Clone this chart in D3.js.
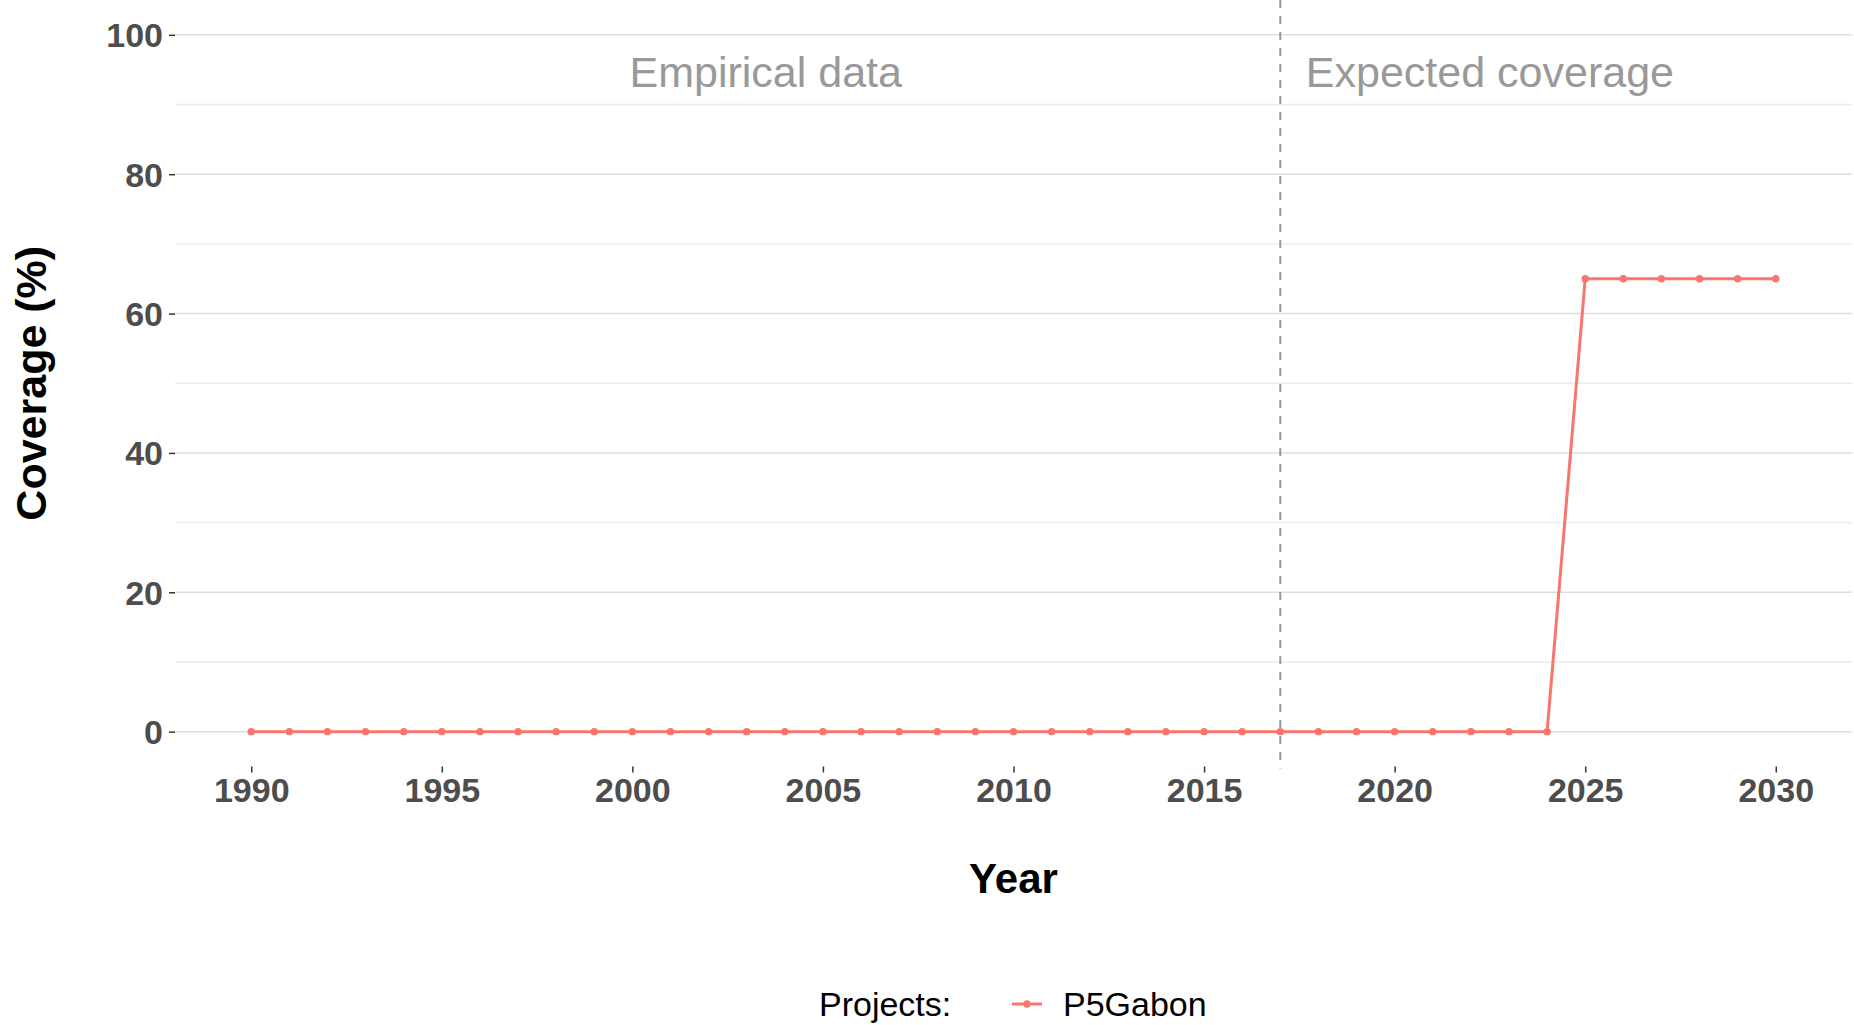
<!DOCTYPE html>
<html><head><meta charset="utf-8">
<script src="https://cdn.jsdelivr.net/npm/d3@7"></script>
<style>body{margin:0;background:#fff}svg{display:block;font-family:"Liberation Sans",Arial,sans-serif}</style>
</head><body>
<svg id="c" width="1854" height="1025"></svg>
<script>
const years = [1990,1991,1992,1993,1994,1995,1996,1997,1998,1999,2000,2001,2002,2003,2004,2005,2006,2007,2008,2009,2010,2011,2012,2013,2014,2015,2016,2017,2018,2019,2020,2021,2022,2023,2024,2025,2026,2027,2028,2029,2030];
const coverage = [0,0,0,0,0,0,0,0,0,0,0,0,0,0,0,0,0,0,0,0,0,0,0,0,0,0,0,0,0,0,0,0,0,0,0,65,65,65,65,65,65];
const seriesName = "P5Gabon";
const xTicks = [1990,1995,2000,2005,2010,2015,2020,2025,2030];
const yTicks = [0,20,40,60,80,100];
const yMinor = [10,30,50,70,90];
const splitYear = 2017;
const annotations = [{x:2003.5,y:95,text:"Empirical data"},{x:2022.5,y:95,text:"Expected coverage"}];

const svg = d3.select("#c");
const L = 175, R = 1852, T = 0, B = 766.5;
const x = d3.scaleLinear().domain([1988,2032]).range([L,R]);
const y = d3.scaleLinear().domain([-5,105]).range([B,T]);
const col = "#F8766D";

// gridlines
svg.append("g").selectAll("line").data(yMinor).join("line")
  .attr("x1",L).attr("x2",R).attr("y1",d=>y(d)).attr("y2",d=>y(d))
  .attr("stroke","#ebebeb").attr("stroke-width",1.3);
svg.append("g").selectAll("line").data(yTicks).join("line")
  .attr("x1",L).attr("x2",R).attr("y1",d=>y(d)).attr("y2",d=>y(d))
  .attr("stroke","#dedede").attr("stroke-width",1.5);

// axes
const xAxis = svg.append("g").attr("transform",`translate(0,${B})`)
  .call(d3.axisBottom(x).tickValues(xTicks).tickFormat(d3.format("d")).tickSize(6).tickPadding(5));
const yAxis = svg.append("g").attr("transform",`translate(${L},0)`)
  .call(d3.axisLeft(y).tickValues(yTicks).tickSize(6).tickPadding(6));
[xAxis,yAxis].forEach(a=>{
  a.select(".domain").remove();
  a.selectAll(".tick line").attr("stroke","#333").attr("stroke-width",1.5);
  a.selectAll(".tick text").attr("fill","#4d4d4d").attr("font-size",34).attr("font-weight","bold")
    .attr("font-family","'Liberation Sans',Arial,sans-serif");
});
xAxis.selectAll(".tick text").attr("dy","0.71em");
yAxis.selectAll(".tick text").attr("dy","0.35em");

// split line
svg.append("line").attr("x1",x(splitYear)).attr("x2",x(splitYear)).attr("y1",T).attr("y2",B+2)
  .attr("stroke","#999").attr("stroke-width",2).attr("stroke-dasharray","8,8");

// annotations
svg.append("g").selectAll("text").data(annotations).join("text")
  .attr("x",d=>x(d.x)).attr("y",d=>y(d.y)).attr("dy","0.4em").attr("text-anchor","middle")
  .attr("fill","#999999").attr("font-size",43).text(d=>d.text);

// series
const data = years.map((yr,i)=>({yr,v:coverage[i]}));
svg.append("path").datum(data)
  .attr("d",d3.line().x(d=>x(d.yr)).y(d=>y(d.v)))
  .attr("fill","none").attr("stroke",col).attr("stroke-width",3);
svg.append("g").selectAll("circle").data(data).join("circle")
  .attr("cx",d=>x(d.yr)).attr("cy",d=>y(d.v)).attr("r",3.7).attr("fill",col);

// axis titles
svg.append("text").attr("x",(L+R)/2).attr("y",893).attr("text-anchor","middle")
  .attr("font-size",42).attr("font-weight","bold").attr("fill","#000").text("Year");
svg.append("text").attr("transform",`translate(46,${(T+B)/2}) rotate(-90)`).attr("text-anchor","middle")
  .attr("font-size",43).attr("font-weight","bold").attr("fill","#000").text("Coverage (%)");

// legend
const lg = svg.append("g");
lg.append("text").attr("x",819).attr("y",1004).attr("dy","0.35em").attr("font-size",34).attr("fill","#000").text("Projects:");
lg.append("line").attr("x1",1012).attr("x2",1042).attr("y1",1004).attr("y2",1004).attr("stroke",col).attr("stroke-width",3);
lg.append("circle").attr("cx",1027).attr("cy",1004).attr("r",3.7).attr("fill",col);
lg.append("text").attr("x",1063).attr("y",1004).attr("dy","0.35em").attr("font-size",34).attr("fill","#000").text(seriesName);
</script>
</body></html>
